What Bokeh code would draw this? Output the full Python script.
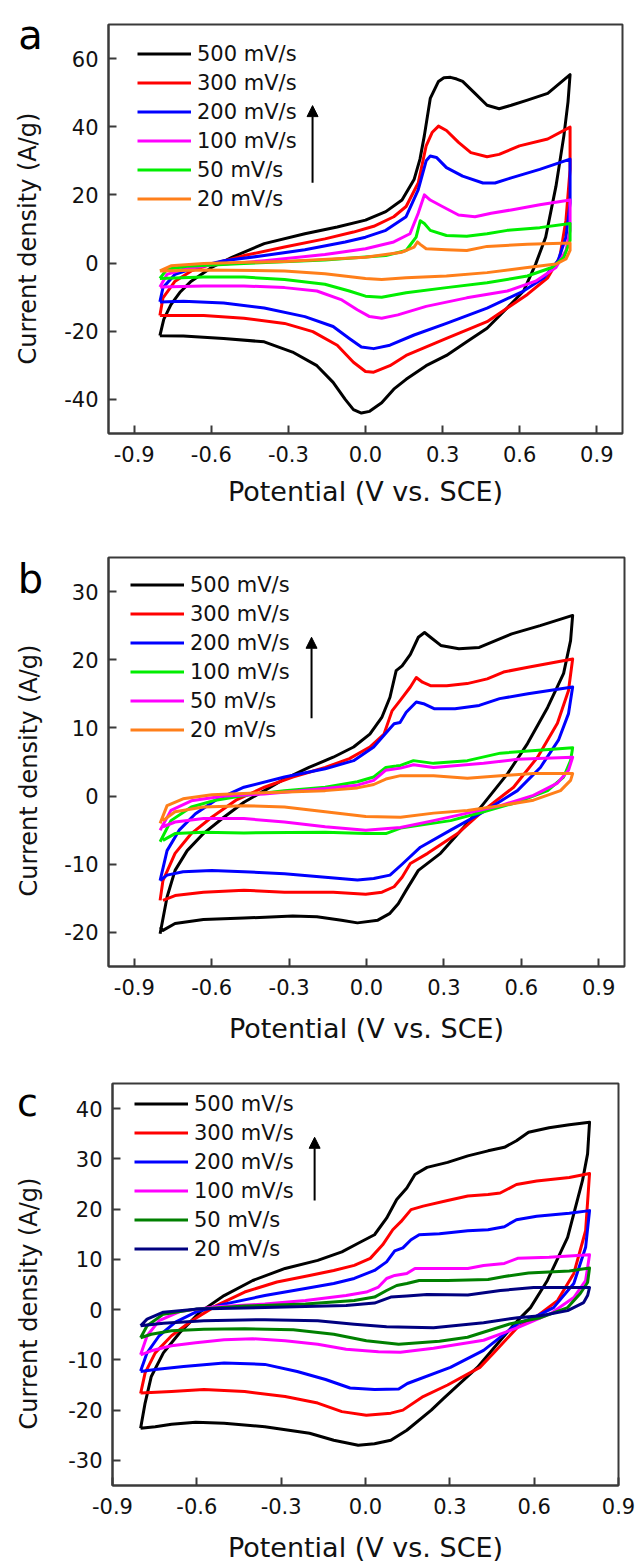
from bokeh.plotting import figure
from bokeh.layouts import column, row
from bokeh.models import (FixedTicker, PrintfTickFormatter, Legend, LegendItem,
                          Arrow, NormalHead, Range1d)
from bokeh.core.properties import value
from bokeh.embed import file_html
from bokeh.resources import INLINE
import math

# ---------------- Panel a ----------------
A_LABELS = ["500 mV/s", "300 mV/s", "200 mV/s", "100 mV/s", "50 mV/s", "20 mV/s"]
A_COLORS = ["#000000", "#ff0000", "#0000ff", "#ff00ff", "#00ee00", "#ff7f1a"]

A500_X = [-0.80, -0.785, -0.757, -0.720, -0.678, -0.599, -0.520, -0.394, -0.236, -0.110, 0.0, 0.079, 0.142, 0.189, 0.212, 0.229, 0.252, 0.284, 0.305, 0.331, 0.355, 0.378, 0.426, 0.473, 0.520, 0.567, 0.630, 0.709, 0.796,
          0.788, 0.772, 0.741, 0.701, 0.662, 0.615, 0.552, 0.473, 0.394, 0.315, 0.236, 0.158, 0.110, 0.063, 0.016, -0.016, -0.047, -0.079, -0.126, -0.189, -0.284, -0.394, -0.552, -0.709, -0.80]
A500_Y = [-21.3, -16.5, -12.2, -8.4, -5.3, -1.3, 1.7, 5.7, 8.6, 10.6, 12.6, 15.1, 18.5, 24.5, 30.5, 37.4, 48.3, 53.3, 54.4, 54.5, 54.0, 53.3, 49.8, 46.3, 45.3, 46.3, 47.8, 49.8, 55.3,
          47.3, 37.4, 22.5, 7.6, -0.3, -8.2, -13.1, -19.1, -23.1, -27.1, -30.1, -34.1, -37.0, -41.0, -43.5, -44.0, -43.0, -40.0, -35.0, -30.1, -26.1, -23.1, -22.1, -21.4, -21.3]

A300_X = [-0.80, -0.788, -0.741, -0.678, -0.599, -0.473, -0.315, -0.158, -0.047, 0.032, 0.110, 0.158, 0.205, 0.236, 0.260, 0.284, 0.315, 0.362, 0.410, 0.473, 0.520, 0.599, 0.709, 0.796,
          0.796, 0.780, 0.756, 0.709, 0.630, 0.552, 0.473, 0.315, 0.158, 0.095, 0.032, 0.0, -0.047, -0.110, -0.205, -0.315, -0.473, -0.630, -0.80]
A300_Y = [-15.4, -10.2, -5.3, -2.3, -0.3, 2.2, 4.7, 7.1, 9.1, 10.8, 13.6, 16.6, 23.5, 34.4, 38.4, 40.2, 38.9, 35.4, 32.4, 31.2, 31.9, 34.4, 36.4, 39.9,
          27.5, 12.6, 1.7, -4.3, -9.2, -13.2, -17.2, -22.1, -27.1, -30.1, -32.0, -31.8, -29.1, -24.1, -20.1, -17.7, -16.2, -15.4, -15.4]

A200_X = [-0.80, -0.788, -0.741, -0.662, -0.552, -0.394, -0.236, -0.079, 0.0, 0.079, 0.158, 0.205, 0.236, 0.252, 0.276, 0.315, 0.378, 0.457, 0.504, 0.567, 0.678, 0.796,
          0.796, 0.780, 0.749, 0.694, 0.615, 0.473, 0.315, 0.189, 0.095, 0.032, -0.016, -0.063, -0.126, -0.236, -0.394, -0.552, -0.709, -0.80]
A200_Y = [-11.4, -7.2, -3.3, -1.3, 0.7, 2.2, 3.9, 6.2, 7.6, 9.6, 13.6, 21.5, 30.0, 31.4, 31.0, 28.0, 25.5, 23.5, 23.5, 25.0, 27.5, 30.5,
          17.6, 7.6, 0.7, -4.3, -8.2, -13.2, -17.7, -21.1, -24.1, -25.1, -24.6, -22.1, -18.6, -15.7, -13.2, -11.7, -11.2, -11.4]

A100_X = [-0.80, -0.772, -0.709, -0.599, -0.394, -0.158, 0.0, 0.110, 0.173, 0.205, 0.229, 0.252, 0.299, 0.362, 0.426, 0.489, 0.567, 0.678, 0.796,
          0.796, 0.780, 0.741, 0.662, 0.552, 0.394, 0.236, 0.126, 0.063, 0.016, -0.032, -0.095, -0.189, -0.315, -0.473, -0.630, -0.80]
A100_Y = [-7.0, -3.3, -1.8, -0.6, 0.7, 2.5, 4.2, 6.2, 8.6, 14.6, 20.0, 18.5, 16.6, 14.1, 13.6, 14.6, 15.6, 17.1, 18.5,
          9.6, 3.7, -1.3, -5.3, -8.2, -10.2, -12.7, -15.2, -16.2, -15.7, -13.7, -10.7, -8.2, -7.2, -6.7, -6.7, -7.0]

A50_X = [-0.80, -0.772, -0.694, -0.473, -0.158, 0.079, 0.158, 0.197, 0.213, 0.229, 0.252, 0.315, 0.394, 0.473, 0.552, 0.678, 0.796,
         0.796, 0.772, 0.725, 0.630, 0.473, 0.315, 0.158, 0.063, 0.0, -0.063, -0.158, -0.315, -0.473, -0.630, -0.80]
A50_Y = [-4.5, -1.8, -0.9, -0.1, 0.9, 2.2, 3.7, 7.6, 12.4, 11.6, 9.6, 8.1, 7.9, 8.6, 9.6, 10.4, 11.6,
         6.6, 1.7, -1.3, -3.8, -5.8, -7.2, -8.7, -10.0, -9.7, -8.2, -6.2, -4.8, -4.1, -4.1, -4.5]

A20_X = [-0.80, -0.757, -0.630, -0.315, 0.0, 0.142, 0.189, 0.202, 0.213, 0.236, 0.315, 0.394, 0.473, 0.630, 0.796,
         0.796, 0.780, 0.741, 0.630, 0.473, 0.315, 0.158, 0.063, 0.0, -0.158, -0.315, -0.630, -0.80]
A20_Y = [-2.3, -0.8, -0.1, 0.5, 1.7, 3.2, 4.7, 6.2, 5.5, 4.2, 3.9, 3.7, 4.9, 5.5, 5.9,
         3.7, 1.2, -0.3, -1.3, -2.8, -3.8, -4.3, -4.8, -4.5, -3.1, -2.3, -2.0, -2.3]

A_YTICKS = [-40, -20, 0, 20, 40, 60]

# ---------------- Panel b ----------------
B_LABELS = ["500 mV/s", "300 mV/s", "200 mV/s", "100 mV/s", "50 mV/s", "20 mV/s"]
B_COLORS = ["#000000", "#ff0000", "#0000ff", "#00ee00", "#ff00ff", "#ff7f1a"]

B500_X = [-0.80, -0.773, -0.742, -0.695, -0.632, -0.553, -0.475, -0.396, -0.318, -0.223, -0.129, -0.050, 0.013, 0.060, 0.091, 0.115, 0.138, 0.170, 0.201, 0.225, 0.248, 0.288, 0.358, 0.437, 0.500, 0.563, 0.673, 0.799,
          0.791, 0.764, 0.702, 0.624, 0.547, 0.454, 0.391, 0.287, 0.201, 0.154, 0.123, 0.091, 0.044, -0.035, -0.097, -0.192, -0.286, -0.475, -0.632, -0.742, -0.789, -0.80]
B500_Y = [-20.2, -14.8, -10.9, -8.0, -5.5, -3.1, -0.9, 0.8, 2.5, 4.2, 5.7, 7.2, 9.1, 11.6, 14.5, 18.4, 19.1, 20.8, 23.3, 24.0, 23.3, 22.1, 21.6, 21.8, 22.8, 23.8, 25.0, 26.5,
          22.8, 18.0, 13.0, 7.7, 3.3, -1.1, -4.0, -8.4, -10.9, -13.8, -15.8, -17.2, -18.2, -18.6, -18.2, -17.7, -17.6, -17.9, -18.1, -18.7, -19.7, -19.2]

B300_X = [-0.80, -0.789, -0.742, -0.679, -0.600, -0.506, -0.396, -0.286, -0.160, -0.066, 0.013, 0.068, 0.099, 0.130, 0.170, 0.193, 0.217, 0.248, 0.311, 0.390, 0.468, 0.531, 0.626, 0.799,
          0.783, 0.740, 0.663, 0.570, 0.454, 0.353, 0.237, 0.170, 0.138, 0.107, 0.060, -0.003, -0.129, -0.318, -0.475, -0.632, -0.742, -0.789]
B300_Y = [-15.3, -12.4, -8.4, -5.5, -3.1, -0.6, 1.3, 2.8, 4.2, 5.5, 7.2, 9.1, 12.5, 14.0, 16.0, 17.4, 16.7, 16.2, 16.2, 16.5, 17.2, 18.2, 18.9, 20.1,
          15.5, 10.7, 5.7, 1.3, -2.1, -5.5, -8.4, -9.9, -11.9, -13.3, -14.1, -14.4, -14.1, -14.1, -13.8, -14.1, -14.6, -15.3]

B200_X = [-0.80, -0.773, -0.726, -0.663, -0.585, -0.475, -0.318, -0.160, -0.050, 0.028, 0.083, 0.107, 0.130, 0.154, 0.193, 0.225, 0.264, 0.343, 0.437, 0.516, 0.626, 0.799,
          0.783, 0.744, 0.674, 0.585, 0.454, 0.326, 0.209, 0.138, 0.091, 0.028, -0.035, -0.160, -0.318, -0.475, -0.600, -0.711, -0.773, -0.80]
B200_Y = [-12.4, -8.0, -5.0, -2.6, -0.6, 1.3, 2.8, 4.0, 5.2, 7.2, 9.6, 10.6, 10.8, 12.3, 13.8, 13.5, 12.8, 12.8, 13.3, 14.3, 15.0, 16.0,
          12.1, 8.2, 4.2, 0.8, -2.3, -5.0, -7.5, -10.0, -11.6, -12.1, -12.3, -11.9, -11.4, -11.1, -10.9, -11.1, -11.6, -12.4]

B100_X = [-0.80, -0.758, -0.679, -0.585, -0.475, -0.318, -0.160, -0.035, 0.028, 0.075, 0.115, 0.132, 0.182, 0.260, 0.391, 0.519, 0.799,
          0.791, 0.764, 0.702, 0.585, 0.454, 0.326, 0.132, 0.075, -0.003, -0.160, -0.475, -0.632, -0.742, -0.789]
B100_Y = [-6.7, -3.6, -1.6, -0.6, 0.1, 0.8, 1.3, 2.1, 2.8, 4.2, 4.4, 4.5, 5.2, 4.8, 5.2, 6.3, 7.1,
          5.2, 2.8, 0.8, -0.9, -2.3, -3.6, -4.7, -5.5, -5.5, -5.3, -5.4, -5.3, -5.5, -6.5]

B50_X = [-0.80, -0.758, -0.679, -0.553, -0.396, -0.160, -0.035, 0.028, 0.075, 0.132, 0.182, 0.260, 0.454, 0.585, 0.799,
         0.783, 0.740, 0.647, 0.519, 0.391, 0.260, 0.132, -0.003, -0.160, -0.318, -0.475, -0.632, -0.742, -0.789]
B50_Y = [-5.0, -2.1, -0.7, 0.0, 0.3, 1.1, 1.6, 2.3, 3.8, 4.1, 4.6, 4.2, 4.8, 5.4, 5.7,
         3.8, 1.9, 0.1, -1.4, -2.5, -3.6, -4.6, -5.0, -4.5, -3.8, -3.3, -3.3, -3.8, -4.5]

B20_X = [-0.80, -0.773, -0.711, -0.600, -0.396, -0.160, -0.035, 0.028, 0.075, 0.132, 0.260, 0.391, 0.519, 0.647, 0.799,
         0.791, 0.752, 0.647, 0.519, 0.391, 0.260, 0.132, -0.003, -0.160, -0.318, -0.475, -0.632, -0.742, -0.789]
B20_Y = [-4.0, -1.4, -0.4, 0.2, 0.5, 0.8, 1.2, 1.7, 2.5, 3.0, 3.0, 2.6, 3.0, 3.3, 3.3,
         2.3, 0.8, -0.6, -1.4, -2.1, -2.5, -3.1, -3.0, -2.3, -1.6, -1.4, -1.6, -2.3, -3.6]

B_YTICKS = [-20, -10, 0, 10, 20, 30]

# ---------------- Panel c ----------------
C_LABELS = ["500 mV/s", "300 mV/s", "200 mV/s", "100 mV/s", "50 mV/s", "20 mV/s"]
C_COLORS = ["#000000", "#ff0000", "#0000ff", "#ff00ff", "#008000", "#000080"]

C500_X = [-0.80, -0.784, -0.762, -0.719, -0.661, -0.589, -0.503, -0.401, -0.286, -0.170, -0.084, -0.026, 0.032, 0.075, 0.111, 0.147, 0.176, 0.219, 0.292, 0.364, 0.436, 0.494, 0.537, 0.580, 0.653, 0.725, 0.797,
          0.790, 0.772, 0.719, 0.647, 0.587, 0.541, 0.480, 0.398, 0.277, 0.234, 0.147, 0.090, 0.032, -0.026, -0.113, -0.199, -0.358, -0.503, -0.604, -0.690, -0.748, -0.80]
C500_Y = [-23.6, -18.6, -13.3, -8.6, -4.6, -0.5, 2.8, 5.8, 8.2, 9.8, 11.5, 13.2, 14.9, 18.2, 21.9, 24.2, 26.9, 28.3, 29.3, 30.6, 31.6, 32.3, 33.6, 35.3, 36.2, 36.8, 37.3,
          31.0, 25.7, 14.4, 5.8, 0.4, -2.2, -6.1, -11.5, -17.7, -20.0, -24.0, -26.0, -26.7, -27.0, -26.0, -24.6, -23.3, -22.6, -22.4, -22.8, -23.3, -23.6]

C300_X = [-0.80, -0.784, -0.748, -0.690, -0.618, -0.531, -0.430, -0.315, -0.199, -0.113, -0.040, 0.017, 0.061, 0.097, 0.126, 0.162, 0.205, 0.292, 0.364, 0.436, 0.479, 0.537, 0.609, 0.725, 0.797,
          0.783, 0.741, 0.683, 0.598, 0.541, 0.455, 0.407, 0.292, 0.205, 0.133, 0.090, 0.003, -0.084, -0.170, -0.286, -0.430, -0.575, -0.690, -0.80]
C300_Y = [-16.7, -12.6, -8.6, -5.2, -2.2, 0.8, 3.5, 5.5, 6.8, 7.8, 8.8, 10.2, 12.9, 15.9, 17.5, 19.9, 20.6, 21.7, 22.6, 22.9, 23.2, 24.9, 25.6, 26.3, 27.1,
          15.7, 7.2, 1.8, -1.8, -3.5, -8.7, -11.5, -15.0, -17.3, -20.0, -20.6, -21.0, -20.3, -18.6, -17.3, -16.3, -15.9, -16.3, -16.6]

C200_X = [-0.80, -0.777, -0.734, -0.676, -0.604, -0.503, -0.358, -0.214, -0.113, -0.040, 0.032, 0.075, 0.104, 0.133, 0.162, 0.191, 0.263, 0.364, 0.436, 0.494, 0.537, 0.609, 0.725, 0.797,
          0.783, 0.741, 0.669, 0.598, 0.541, 0.420, 0.302, 0.149, 0.118, 0.032, -0.055, -0.142, -0.243, -0.358, -0.503, -0.647, -0.748, -0.80]
C200_Y = [-12.2, -8.6, -5.2, -2.5, -0.5, 1.1, 2.8, 4.2, 5.2, 6.2, 7.8, 9.5, 11.7, 12.3, 13.9, 14.9, 15.1, 15.7, 15.9, 16.5, 17.9, 18.6, 19.2, 19.7,
          12.4, 5.2, 0.4, -1.6, -2.8, -8.1, -11.5, -14.7, -15.8, -15.9, -15.6, -13.9, -12.3, -10.9, -10.6, -11.3, -11.9, -12.3]

C100_X = [-0.80, -0.777, -0.734, -0.661, -0.546, -0.358, -0.214, -0.069, 0.003, 0.046, 0.075, 0.104, 0.147, 0.176, 0.242, 0.364, 0.420, 0.494, 0.541, 0.653, 0.797,
          0.783, 0.741, 0.658, 0.541, 0.420, 0.242, 0.124, 0.046, -0.069, -0.170, -0.286, -0.401, -0.503, -0.604, -0.690, -0.762, -0.80]
C100_Y = [-9.0, -5.2, -2.2, -0.4, 0.5, 1.1, 1.8, 2.8, 3.5, 4.5, 6.2, 6.8, 7.2, 8.2, 8.2, 8.2, 8.8, 9.2, 10.2, 10.4, 10.9,
          5.8, 2.4, -0.8, -3.6, -6.1, -7.7, -8.5, -8.4, -7.9, -6.9, -6.2, -5.8, -6.0, -6.6, -7.2, -8.2, -9.0]

C50_X = [-0.80, -0.777, -0.719, -0.604, -0.430, -0.214, -0.040, 0.032, 0.075, 0.111, 0.147, 0.191, 0.292, 0.436, 0.494, 0.580, 0.725, 0.797,
         0.790, 0.764, 0.719, 0.623, 0.516, 0.363, 0.263, 0.118, 0.003, -0.113, -0.257, -0.430, -0.575, -0.690, -0.762, -0.80]
C50_Y = [-5.6, -3.2, -0.9, 0.1, 0.7, 1.1, 1.8, 2.5, 3.8, 4.8, 5.2, 5.8, 5.8, 6.0, 6.6, 7.3, 7.7, 8.3,
         5.4, 3.2, 0.4, -1.6, -2.8, -5.5, -6.3, -6.9, -6.2, -4.9, -4.0, -3.8, -3.9, -4.2, -4.9, -5.6]

C20_X = [-0.80, -0.777, -0.719, -0.604, -0.358, -0.069, 0.032, 0.090, 0.147, 0.219, 0.364, 0.480, 0.598, 0.797,
         0.790, 0.776, 0.719, 0.623, 0.541, 0.420, 0.242, 0.075, -0.040, -0.170, -0.358, -0.575, -0.719, -0.80]
C20_Y = [-3.2, -1.9, -0.5, 0.1, 0.4, 0.8, 1.3, 2.5, 2.7, 3.0, 2.9, 3.8, 4.4, 4.4,
         2.8, 1.4, -0.2, -1.2, -1.6, -2.6, -3.6, -3.4, -2.9, -2.2, -2.0, -2.2, -2.7, -3.2]

C_YTICKS = [-30, -20, -10, 0, 10, 20, 30, 40]

X_TICKS = [-0.9, -0.6, -0.3, 0.0, 0.3, 0.6, 0.9]
X_TITLE = "Potential (V vs. SCE)"
Y_TITLE = "Current density (A/g)"

FONT = "DejaVu Sans"
FRAME = "#3a3a3a"
MAIN_LEFT = 60   # left border of each plotting figure (holds the tick labels)


def make_strip(letter, letter_pos, letter_size, ylabel_pos, width, height, top, bottom):
    """Narrow left strip holding the panel letter and the rotated y-axis title.
    Its frame has the same top/bottom borders as the neighbouring plot, and its
    ranges are chosen so one unit equals one pixel measured from the figure top."""
    s = figure(width=width, height=height, output_backend="svg", toolbar_location=None,
               x_range=Range1d(0, width), y_range=Range1d(height - bottom, top),
               x_axis_type=None, y_axis_type=None,
               min_border_top=top, min_border_bottom=bottom, min_border_left=0, min_border_right=0)
    s.grid.visible = False
    s.outline_line_color = None
    s.background_fill_color = "white"
    s.border_fill_color = "white"
    s.text(x=[letter_pos[0]], y=[letter_pos[1]], text=[letter], text_font=value(FONT),
           text_font_size=letter_size, text_align="center", text_baseline="middle",
           text_color="black")
    s.text(x=[ylabel_pos[0]], y=[ylabel_pos[1]], text=[Y_TITLE], text_font=value(FONT),
           text_font_size="24px", text_align="center", text_baseline="middle",
           angle=math.pi / 2, text_color="#111111")
    return s


def make_panel(series_x, series_y, colors, labels, xr, yr, yticks,
               width, height, borders, legend_loc, arrow, xlabel_standoff):
    top, bottom, left, right = borders
    p = figure(width=width, height=height, output_backend="svg", toolbar_location=None,
               x_range=Range1d(*xr), y_range=Range1d(*yr),
               min_border_top=top, min_border_bottom=bottom,
               min_border_left=left, min_border_right=right)
    p.grid.visible = False
    p.outline_line_color = FRAME
    p.outline_line_width = 2
    p.background_fill_color = "white"
    p.border_fill_color = "white"

    for ax in (p.xaxis[0], p.yaxis[0]):
        ax.axis_line_color = FRAME
        ax.axis_line_width = 2
        ax.major_tick_line_color = FRAME
        ax.major_tick_line_width = 2
        ax.major_tick_in = 8
        ax.major_tick_out = 0
        ax.minor_tick_line_color = None
        ax.major_label_text_font = FONT
        ax.major_label_text_font_size = "21px"
        ax.major_label_text_color = "#111111"
        ax.axis_label_text_font = FONT
        ax.axis_label_text_font_style = "normal"
        ax.axis_label_text_color = "#111111"

    p.xaxis.ticker = FixedTicker(ticks=X_TICKS)
    p.xaxis.formatter = PrintfTickFormatter(format="%.1f")
    p.xaxis.major_label_standoff = 12
    p.xaxis.axis_label = X_TITLE
    p.xaxis.axis_label_text_font_size = "27px"
    p.xaxis.axis_label_standoff = xlabel_standoff

    p.yaxis.ticker = FixedTicker(ticks=yticks)
    p.yaxis.formatter = PrintfTickFormatter(format="%d")
    p.yaxis.major_label_standoff = 10

    items = []
    for xs, ys, c, lab in zip(series_x, series_y, colors, labels):
        r = p.line(xs, ys, line_color=c, line_width=3, line_join="round")
        items.append(LegendItem(label=lab, renderers=[r]))

    legend = Legend(items=items, location=legend_loc, border_line_color=None,
                    background_fill_alpha=0, padding=0, margin=0, spacing=0,
                    glyph_width=54, glyph_height=29, label_height=29, label_standoff=6,
                    label_text_font=FONT, label_text_font_size="21px",
                    label_text_color="#111111")
    p.add_layout(legend)

    ax0, ay0, ay1 = arrow
    p.add_layout(Arrow(end=NormalHead(size=11, fill_color="black", line_color="black", line_width=1),
                       x_start=ax0, y_start=ay0, x_end=ax0, y_end=ay1,
                       line_color="black", line_width=2))
    return p


# panel a: 530 px tall, frame 24..433, frame left at 108
sa = make_strip("a", (30, 34), "40px", (27, 238), 48, 530, 24, 97)
pa = make_panel([A500_X, A300_X, A200_X, A100_X, A50_X, A20_X],
                [A500_Y, A300_Y, A200_Y, A100_Y, A50_Y, A20_Y],
                A_COLORS, A_LABELS, (-1.0, 1.0), (-50, 70), A_YTICKS,
                637 - 48, 530, (24, 97, MAIN_LEFT, 15), (29, 220), (-0.206, 23.6, 46.2), 11)

# panel b: 520 px tall, frame 27..436, frame left at 108
sb = make_strip("b", (30, 48), "40px", (28, 240), 48, 520, 27, 84)
pb = make_panel([B500_X, B300_X, B200_X, B100_X, B50_X, B20_X],
                [B500_Y, B300_Y, B200_Y, B100_Y, B50_Y, B20_Y],
                B_COLORS, B_LABELS, (-1.0, 1.0), (-25, 35), B_YTICKS,
                637 - 48, 520, (27, 84, MAIN_LEFT, 13), (22, 222), (-0.213, 11.4, 23.3), 15)

# panel c: 517 px tall, frame 33..435, frame left at 112
sc = make_strip("c", (27, 52), "38px", (28, 253), 52, 517, 33, 82)
pc = make_panel([C500_X, C300_X, C200_X, C100_X, C50_X, C20_X],
                [C500_Y, C300_Y, C200_Y, C100_Y, C50_Y, C20_Y],
                C_COLORS, C_LABELS, (-0.9, 0.9), (-35, 45), C_YTICKS,
                637 - 52, 517, (33, 82, MAIN_LEFT, 19), (22, 222), (-0.181, 21.7, 34.3), 15)

layout = column(row(sa, pa, spacing=0), row(sb, pb, spacing=0), row(sc, pc, spacing=0), spacing=0)

with open("out.html", "w") as f:
    f.write(file_html(layout, INLINE))
